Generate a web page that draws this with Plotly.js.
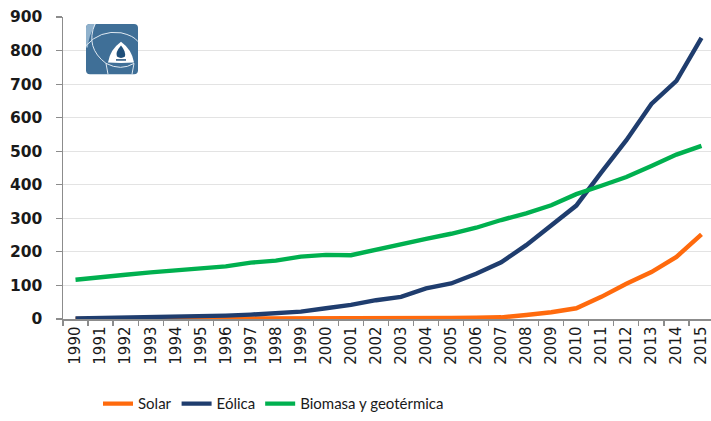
<!DOCTYPE html>
<html>
<head>
<meta charset="utf-8">
<script src="https://cdn.plot.ly/plotly-3.0.1.min.js"></script>
<style>
html,body{margin:0;padding:0;overflow:hidden;background:#fff;}
#chart{width:715px;height:421px;}
</style>
</head>
<body>
<div id="chart"></div>
<script>
// ---- data ----
const years = ['1990','1991','1992','1993','1994','1995','1996','1997','1998','1999','2000','2001','2002','2003','2004','2005','2006','2007','2008','2009','2010','2011','2012','2013','2014','2015'];
const solar   = [0,0,0,0,0,0,0,0,0,1,1,1,1,1,2,3,4,5,12,20,32,66,105,140,185,252];
const eolica  = [2,3,4,5,6,8,10,13,16,22,32,42,56,66,91,106,135,169,220,277,338,437,533,641,710,838];
const biomasa = [117,123,132,139,145,151,157,168,174,186,191,190,207,222,239,254,272,295,315,339,372,397,423,456,490,516];
const seriesNames = ['Solar','Eólica','Biomasa y geotérmica'];
const yTicks = [0,100,200,300,400,500,600,700,800,900];

// ---- layout geometry ----
const W = 715, H = 421, ML = 63, MR = 1, MT = 17, MB = 98;
const PW = W - ML - MR, PH = H - MT - MB;
const px = x => (x - ML) / PW;
const py = y => (H - MB - y) / PH;

// logo shapes (decoration)
const L = 86, R = 138, T = 24, B = 75, rr = 4;
const sq = `M${px(L+rr)},${py(T)} L${px(R-rr)},${py(T)} Q${px(R)},${py(T)} ${px(R)},${py(T+rr)} L${px(R)},${py(B-rr)} Q${px(R)},${py(B)} ${px(R-rr)},${py(B)} L${px(L+rr)},${py(B)} Q${px(L)},${py(B)} ${px(L)},${py(B-rr)} L${px(L)},${py(T+rr)} Q${px(L)},${py(T)} ${px(L+rr)},${py(T)} Z`;
const light = `M${px(L+rr)},${py(T)} L${px(96)},${py(T)} Q${px(88)},${py(36)} ${px(88)},${py(48)} L${px(L)},${py(48)} L${px(L)},${py(T+rr)} Q${px(L)},${py(T)} ${px(L+rr)},${py(T)} Z`;
const arch = `M${px(108)},${py(63)} Q${px(110)},${py(50)} ${px(121)},${py(42)} Q${px(132)},${py(50)} ${px(134)},${py(63)} Q${px(121)},${py(64)} ${px(108)},${py(63)} Z`;
const flame = `M${px(121)},${py(46)} Q${px(115)},${py(53)} ${px(117)},${py(57)} Q${px(121)},${py(60)} ${px(125)},${py(57)} Q${px(126)},${py(52)} ${px(121)},${py(46)} Z`;
const base = `M${px(116)},${py(60.5)} L${px(126)},${py(60.5)}`;
const arc1 = `M${px(L)},${py(46)} Q${px(100)},${py(30)} ${px(121)},${py(33)} Q${px(134)},${py(36)} ${px(R)},${py(42)}`;
const arc2 = `M${px(95)},${py(T)} Q${px(85)},${py(48)} ${px(106)},${py(64)} Q${px(121)},${py(72)} ${px(134)},${py(64)}`;
const arc3 = `M${px(106)},${py(64)} L${px(108)},${py(B)}`;
const arc4 = `M${px(134)},${py(64)} L${px(132)},${py(B)}`;
const shapes = [
  {type:'path', xref:'paper', yref:'paper', path:sq, fillcolor:'#3f6f97', line:{width:0}, layer:'above'},
  {type:'path', xref:'paper', yref:'paper', path:light, fillcolor:'#8fb1cc', line:{width:0}, layer:'above'},
  {type:'path', xref:'paper', yref:'paper', path:arc1, line:{color:'#dfe9f2', width:1}, layer:'above'},
  {type:'path', xref:'paper', yref:'paper', path:arc2, line:{color:'#dfe9f2', width:1}, layer:'above'},
  {type:'path', xref:'paper', yref:'paper', path:arc3, line:{color:'#dfe9f2', width:1}, layer:'above'},
  {type:'path', xref:'paper', yref:'paper', path:arc4, line:{color:'#dfe9f2', width:1}, layer:'above'},
  {type:'path', xref:'paper', yref:'paper', path:arch, fillcolor:'#ffffff', line:{width:0}, layer:'above'},
  {type:'path', xref:'paper', yref:'paper', path:flame, fillcolor:'#1f4f7a', line:{width:0}, layer:'above'},
  {type:'path', xref:'paper', yref:'paper', path:base, line:{color:'#1f4f7a', width:1.5}, layer:'above'}
];

const colors = ['#ff6a0d','#1f3d6e','#00b04f'];
const data = [solar, eolica, biomasa].map((vals, i) => ({
  type:'scatter', mode:'lines', x: years, y: vals, name: seriesNames[i],
  line:{color: colors[i], width:4.4}, hoverinfo:'skip'
}));

const layout = {
  width: W, height: H,
  margin:{l:ML, r:MR, t:MT, b:MB, pad:0},
  paper_bgcolor:'#ffffff', plot_bgcolor:'#ffffff',
  font:{family:'DejaVu Sans, sans-serif', color:'#1a1a1a'},
  showlegend:true,
  legend:{orientation:'h', x:px(98), xanchor:'left', y:-(409-(H-MB))/PH, yanchor:'middle',
          font:{family:'Lato, sans-serif', size:15, color:'#1a1a1a'},
          itemwidth:30, tracegroupgap:0, bgcolor:'rgba(0,0,0,0)'},
  xaxis:{type:'category', range:[-0.5,25.5], showgrid:false, showline:true, linecolor:'#8c8c8c', linewidth:1.5,
         ticks:'outside', tickson:'boundaries', ticklen:5, tickcolor:'#8c8c8c', tickwidth:1.2,
         tickangle:-90, tickfont:{size:15, color:'#1a1a1a', family:'DejaVu Sans, sans-serif'}, fixedrange:true, zeroline:false},
  yaxis:{range:[0,900], tickvals:yTicks, ticktext:yTicks.map(v=>'<b>'+v+'</b>'), showgrid:true, gridcolor:'#e3e3e3', gridwidth:1,
         showline:true, linecolor:'#8c8c8c', linewidth:1.5, ticks:'outside', ticklen:6, tickcolor:'#8c8c8c', tickwidth:1.2,
         ticklabelstandoff:10, tickfont:{size:15.5, color:'#1a1a1a', family:'DejaVu Sans, sans-serif'}, zeroline:false, fixedrange:true},
  shapes: shapes
};

Plotly.newPlot('chart', data, layout, {displayModeBar:false, staticPlot:true});
</script>
</body>
</html>
